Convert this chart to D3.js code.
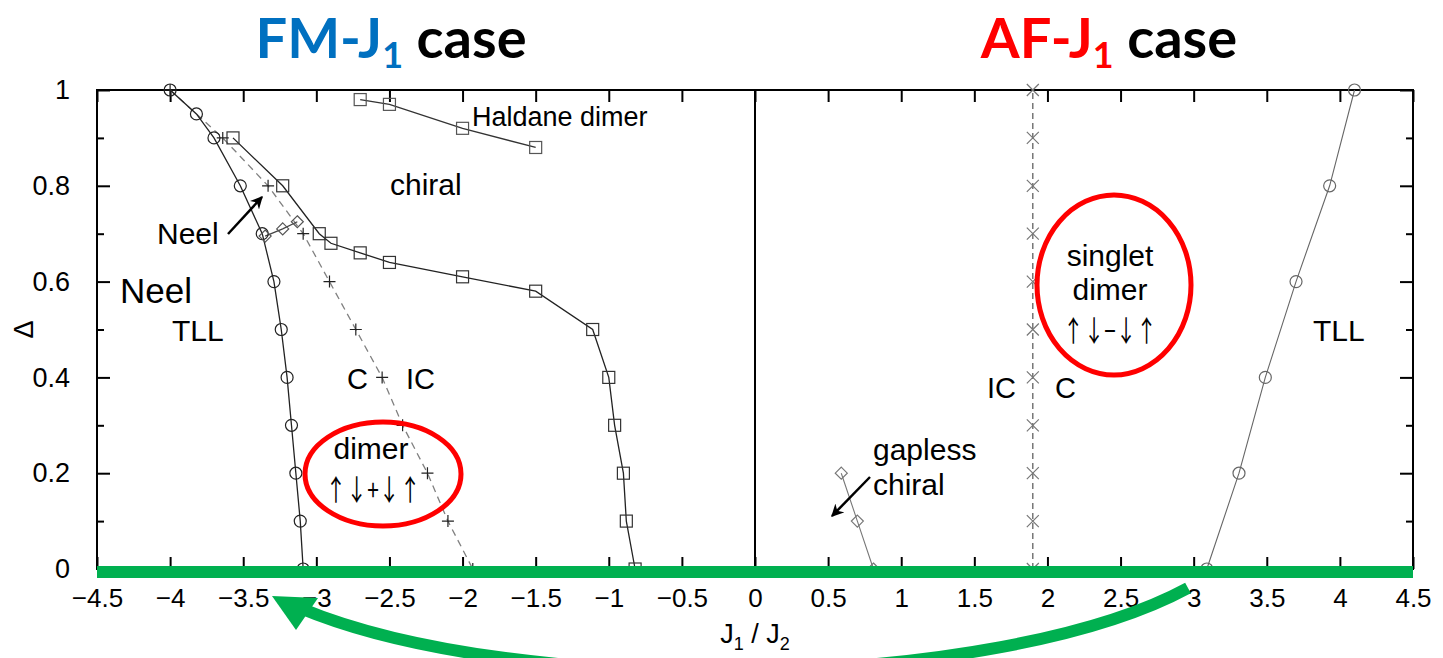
<!DOCTYPE html>
<html>
<head>
<meta charset="utf-8">
<script src="https://cdn.jsdelivr.net/npm/d3@7"></script>
<style>
  html, body { margin: 0; padding: 0; background: #fff; }
  svg text { font-family: "Liberation Sans", Arial, sans-serif; }
</style>
</head>
<body>
<svg id="chart" width="1443" height="658"></svg>
<script>
// Phase boundaries of the frustrated spin chain (Δ vs J1/J2)
const xTickValues = [-4.5, -4, -3.5, -3, -2.5, -2, -1.5, -1, -0.5, 0, 0.5, 1, 1.5, 2, 2.5, 3, 3.5, 4, 4.5];
const yTickValues = [0, 0.2, 0.4, 0.6, 0.8, 1];
const yMinorValues = [0.1, 0.3, 0.5, 0.7, 0.9];

// FM-J1 side
const neelTllCircles = [[-4, 1], [-3.82, 0.95], [-3.70, 0.9], [-3.52, 0.8], [-3.37, 0.7], [-3.29, 0.6],
  [-3.24, 0.5], [-3.20, 0.4], [-3.17, 0.3], [-3.14, 0.2], [-3.11, 0.1], [-3.09, 0]];
const chiralSquares = [[-3.57, 0.9], [-3.23, 0.8], [-2.98, 0.7], [-2.90, 0.68], [-2.70, 0.66], [-2.50, 0.64],
  [-2.00, 0.61], [-1.50, 0.58], [-1.11, 0.5], [-1.00, 0.4], [-0.96, 0.3], [-0.90, 0.2], [-0.88, 0.1], [-0.82, 0]];
const haldaneSquares = [[-2.70, 0.98], [-2.50, 0.97], [-2.00, 0.92], [-1.50, 0.88]];
const commensuratePlus = [[-4, 1], [-3.64, 0.9], [-3.33, 0.8], [-3.09, 0.7], [-2.91, 0.6], [-2.73, 0.5],
  [-2.55, 0.4], [-2.41, 0.3], [-2.24, 0.2], [-2.10, 0.1], [-1.93, 0]];
const neelDiamonds = [[-3.35, 0.695], [-3.23, 0.71], [-3.13, 0.725]];

// AF-J1 side
const gaplessDiamonds = [[0.59, 0.2], [0.70, 0.1], [0.81, 0]];
const tllCircles = [[3.09, 0], [3.31, 0.2], [3.49, 0.4], [3.70, 0.6], [3.93, 0.8], [4.10, 1.0]];
const icCrosses = [[1.9, 0], [1.9, 0.1], [1.9, 0.2], [1.9, 0.3], [1.9, 0.4], [1.9, 0.5],
  [1.9, 0.6], [1.9, 0.7], [1.9, 0.8], [1.9, 0.9], [1.9, 1.0]];

const svg = d3.select("#chart");
const x = d3.scaleLinear().domain([-4.5, 4.5]).range([97, 1413]);
const y = d3.scaleLinear().domain([0, 1]).range([569, 90]);

const line = d3.line().x(d => x(d[0])).y(d => y(d[1]));

// ---------- frame, ticks, labels ----------
const g = svg.append("g");

const fmt = d => (d === 0 ? "0" : d3.format("")(d));

// bottom / top ticks (inward)
g.append("g").attr("transform", `translate(0,${y(0)})`)
  .call(d3.axisBottom(x).tickValues(xTickValues).tickSize(-12).tickPadding(20).tickFormat(fmt))
  .call(a => a.select(".domain").remove())
  .call(a => a.selectAll("line").attr("stroke", "#000").attr("stroke-width", 2))
  .call(a => a.selectAll("text").attr("font-size", 26).attr("fill", "#000")
    .attr("font-family", "Liberation Sans, Arial, sans-serif"));
g.append("g").attr("transform", `translate(0,${y(1)})`)
  .call(d3.axisTop(x).tickValues(xTickValues).tickSize(-12).tickFormat(""))
  .call(a => a.select(".domain").remove())
  .call(a => a.selectAll("line").attr("stroke", "#000").attr("stroke-width", 2));

// left / right major ticks
g.append("g").attr("transform", `translate(${x(-4.5)},0)`)
  .call(d3.axisLeft(y).tickValues(yTickValues).tickSize(-13).tickPadding(27).tickFormat(fmt))
  .call(a => a.select(".domain").remove())
  .call(a => a.selectAll("line").attr("stroke", "#000").attr("stroke-width", 2))
  .call(a => a.selectAll("text").attr("font-size", 27).attr("fill", "#000")
    .attr("font-family", "Liberation Sans, Arial, sans-serif"));
g.append("g").attr("transform", `translate(${x(4.5)},0)`)
  .call(d3.axisRight(y).tickValues(yTickValues).tickSize(-13).tickFormat(""))
  .call(a => a.select(".domain").remove())
  .call(a => a.selectAll("line").attr("stroke", "#000").attr("stroke-width", 2));
// minor ticks
g.append("g").attr("transform", `translate(${x(-4.5)},0)`)
  .call(d3.axisLeft(y).tickValues(yMinorValues).tickSize(-7).tickFormat(""))
  .call(a => a.select(".domain").remove())
  .call(a => a.selectAll("line").attr("stroke", "#000").attr("stroke-width", 2));
g.append("g").attr("transform", `translate(${x(4.5)},0)`)
  .call(d3.axisRight(y).tickValues(yMinorValues).tickSize(-7).tickFormat(""))
  .call(a => a.select(".domain").remove())
  .call(a => a.selectAll("line").attr("stroke", "#000").attr("stroke-width", 2));

// plot border and J1 = 0 divider
g.append("rect")
  .attr("x", x(-4.5)).attr("y", y(1))
  .attr("width", x(4.5) - x(-4.5)).attr("height", y(0) - y(1))
  .attr("fill", "none").attr("stroke", "#000").attr("stroke-width", 2);
g.append("line")
  .attr("x1", x(0)).attr("x2", x(0)).attr("y1", y(0)).attr("y2", y(1))
  .attr("stroke", "#000").attr("stroke-width", 2);

// axis titles
svg.append("text")
  .attr("transform", `translate(24,${y(0.5)}) rotate(-90)`)
  .attr("text-anchor", "middle").attr("dominant-baseline", "central")
  .attr("font-size", 27).text("Δ");

const xl = svg.append("text").attr("x", x(0)).attr("y", 643)
  .attr("text-anchor", "middle").attr("font-size", 27);
xl.append("tspan").text("J");
xl.append("tspan").attr("font-size", 18).attr("dy", 7).text("1");
xl.append("tspan").attr("dy", -7).text(" / J");
xl.append("tspan").attr("font-size", 18).attr("dy", 7).text("2");

// ---------- symbols ----------
function circles(data, color) {
  svg.append("g").selectAll("circle").data(data).join("circle")
    .attr("cx", d => x(d[0])).attr("cy", d => y(d[1])).attr("r", 6)
    .attr("fill", "none").attr("stroke", color).attr("stroke-width", 1.2);
}
function squares(data, color) {
  svg.append("g").selectAll("rect").data(data).join("rect")
    .attr("x", d => x(d[0]) - 6).attr("y", d => y(d[1]) - 6)
    .attr("width", 12).attr("height", 12)
    .attr("fill", "none").attr("stroke", color).attr("stroke-width", 1.2);
}
function symbolPath(data, color, pathFn) {
  svg.append("g").selectAll("path").data(data).join("path")
    .attr("d", d => pathFn(x(d[0]), y(d[1])))
    .attr("fill", "none").attr("stroke", color).attr("stroke-width", 1.2);
}
const plusPath = (cx, cy) => `M${cx - 6},${cy}H${cx + 6}M${cx},${cy - 6}V${cy + 6}`;
const crossPath = (cx, cy) => `M${cx - 6},${cy - 6}L${cx + 6},${cy + 6}M${cx - 6},${cy + 6}L${cx + 6},${cy - 6}`;
const diamondPath = (cx, cy) => `M${cx},${cy - 6}L${cx + 6},${cy}L${cx},${cy + 6}L${cx - 6},${cy}Z`;

function path(data, color, width, dash) {
  svg.append("path").datum(data).attr("d", line)
    .attr("fill", "none").attr("stroke", color).attr("stroke-width", width)
    .attr("stroke-dasharray", dash || null);
}

// FM side curves
path(commensuratePlus, "#808080", 1.3, "7,5");
path(neelTllCircles, "#222", 1.3);
path(chiralSquares, "#222", 1.3);
path(haldaneSquares, "#333", 1.3);
path(neelDiamonds, "#444", 1.2);
symbolPath(commensuratePlus, "#222", plusPath);
circles(neelTllCircles, "#222");
squares(chiralSquares, "#333");
squares(haldaneSquares, "#555");
symbolPath(neelDiamonds, "#555", diamondPath);

// AF side curves
path(icCrosses, "#555", 1.2, "6,4");
path(gaplessDiamonds, "#777", 1.1);
path(tllCircles, "#666", 1.1);
symbolPath(icCrosses, "#777", crossPath);
symbolPath(gaplessDiamonds, "#777", diamondPath);
circles(tllCircles, "#666");

// ---------- phase labels ----------
function label(txt, px, py, size, anchor) {
  return svg.append("text").attr("x", px).attr("y", py)
    .attr("font-size", size).attr("text-anchor", anchor || "start").text(txt);
}
// spin-arrow notation: thin full-width arrows squeezed into a narrow run
function spinLabel(txt, cx, py, width) {
  return svg.append("text").attr("x", cx - width / 2).attr("y", py)
    .style("font-family", "'Noto Sans CJK SC', 'DejaVu Sans', sans-serif")
    .attr("font-size", 29).attr("fill", "#000")
    .attr("textLength", width).attr("lengthAdjust", "spacingAndGlyphs")
    .text(txt);
}
label("Haldane dimer", 472, 126, 27);
label("chiral", 390, 195, 30);
label("Neel", 157, 244, 30);
label("Neel", 120, 303, 35);
label("TLL", 172, 341, 30);
label("C", 347, 389, 29);
label("IC", 406, 389, 29);
label("dimer", 371, 459, 30, "middle");
spinLabel("↑↓+↓↑", 373, 501, 95);

label("IC", 987, 398, 29);
label("C", 1055, 398, 29);
label("singlet", 1110, 266, 30, "middle");
label("dimer", 1110, 300, 30, "middle");
spinLabel("↑↓−↓↑", 1110, 342, 94);
label("TLL", 1313, 341, 30);
label("gapless", 873, 460, 30);
label("chiral", 873, 495, 30);

// pointer arrows
const defs = svg.append("defs");
defs.append("marker").attr("id", "ptr").attr("viewBox", "0 0 10 10")
  .attr("refX", 9).attr("refY", 5).attr("markerWidth", 5).attr("markerHeight", 5)
  .attr("orient", "auto").attr("markerUnits", "strokeWidth")
  .append("path").attr("d", "M0,0L10,5L0,10L3,5Z").attr("fill", "#000");
svg.append("line").attr("x1", 228).attr("y1", 234).attr("x2", 262).attr("y2", 197)
  .attr("stroke", "#000").attr("stroke-width", 2.5).attr("marker-end", "url(#ptr)");
svg.append("line").attr("x1", 870).attr("y1", 477).attr("x2", 832).attr("y2", 516)
  .attr("stroke", "#000").attr("stroke-width", 2.5).attr("marker-end", "url(#ptr)");

// highlighted dimer phases
svg.append("ellipse").attr("cx", 383).attr("cy", 474).attr("rx", 78).attr("ry", 52)
  .attr("fill", "none").attr("stroke", "#ff0000").attr("stroke-width", 5);
svg.append("ellipse").attr("cx", 1114).attr("cy", 285).attr("rx", 77).attr("ry", 90)
  .attr("fill", "none").attr("stroke", "#ff0000").attr("stroke-width", 5);

// green baseline band and the mapping arrow between the two sides
const green = "#00b050";
svg.append("rect").attr("x", x(-4.5)).attr("y", 566).attr("width", x(4.5) - x(-4.5)).attr("height", 12)
  .attr("fill", green);
svg.append("path")
  .attr("d", "M1188,588 C1000,690 520,700 300,608")
  .attr("fill", "none").attr("stroke", green).attr("stroke-width", 12);
svg.append("path")
  .attr("d", "M272,596 L318,598 L296,630 Z")
  .attr("fill", green);

// panel titles
function title(cx, lead, color) {
  const t = svg.append("text").attr("x", cx).attr("y", 58).attr("text-anchor", "middle")
    .attr("font-weight", "bold").attr("font-size", 56)
    .style("font-family", "Lato, 'Open Sans', sans-serif");
  t.append("tspan").attr("fill", color).text(lead);
  t.append("tspan").attr("fill", color).attr("font-size", 36).attr("dy", 10).text("1");
  t.append("tspan").attr("fill", "#000").attr("dy", -10).text(" case");
}
title(391, "FM-J", "#0070c0");
title(1109, "AF-J", "#ff0000");
</script>
</body>
</html>
